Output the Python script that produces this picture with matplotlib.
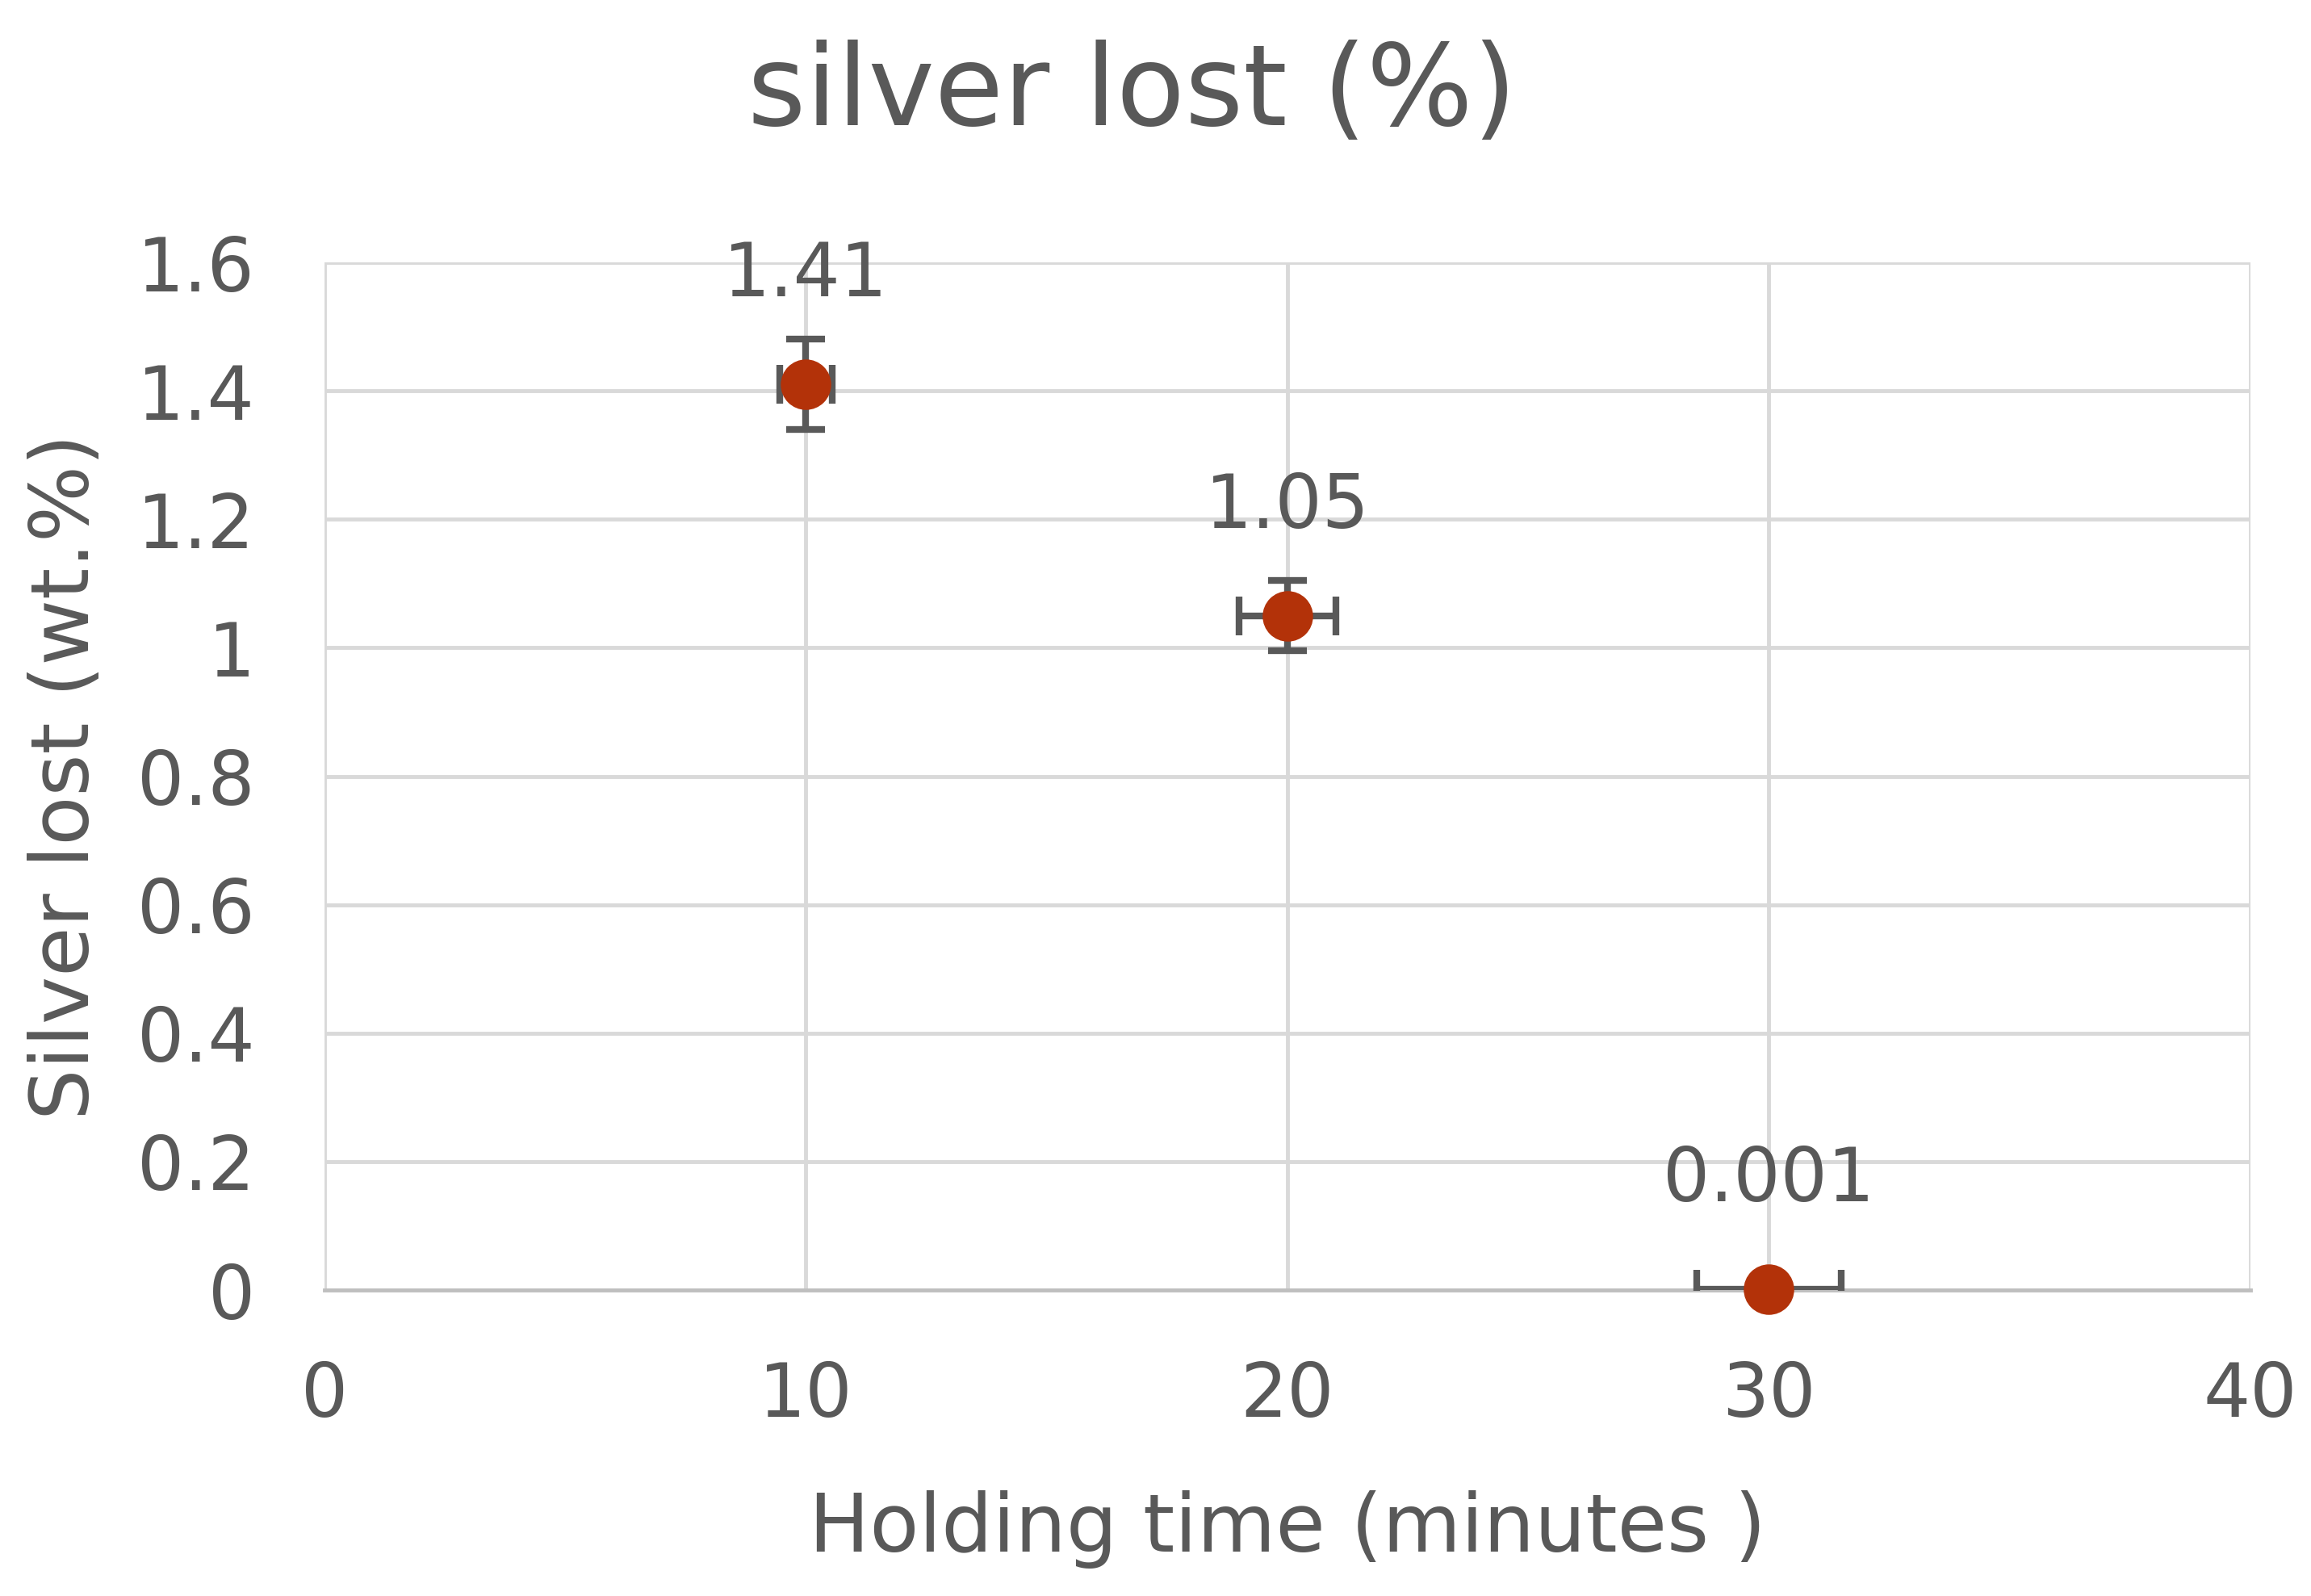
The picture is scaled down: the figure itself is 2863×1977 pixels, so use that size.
import matplotlib
matplotlib.use("Agg")
import matplotlib.pyplot as plt

# data
holding_time = [10, 20, 30]
silver_lost = [1.41, 1.05, 0.001]
time_err = [0.55, 1.0, 1.5]
lost_err = [0.07, 0.055, 0.0]
point_labels = ["1.41", "1.05", "0.001"]
x_ticks = [0, 10, 20, 30, 40]
y_ticks = [0, 0.2, 0.4, 0.6, 0.8, 1.0, 1.2, 1.4, 1.6]
y_tick_labels = ["0", "0.2", "0.4", "0.6", "0.8", "1", "1.2", "1.4", "1.6"]

TEXT = "#595959"
GRID = "#D9D9D9"
DOT = "#B33209"

plt.rcParams['font.family'] = ['DejaVu Sans']

fig = plt.figure(figsize=(28.63, 19.77), dpi=100)
ax = fig.add_axes([0.1404, 0.1917, 0.8334, 0.6439])

ax.errorbar(holding_time, silver_lost, xerr=time_err, yerr=lost_err,
            fmt='none', ecolor=TEXT, elinewidth=6, capsize=17, capthick=6,
            zorder=3)
ax.plot(holding_time, silver_lost, 'o', color=DOT, markersize=44,
        clip_on=False, zorder=4)

for x, y, lab in zip(holding_time, silver_lost, point_labels):
    ax.annotate(lab, (x, y), xytext=(0, 97), textcoords='offset points',
                ha='center', va='center', fontsize=66, color=TEXT, zorder=5)

ax.set_xlim(0, 40)
ax.set_ylim(0, 1.6)
ax.set_xticks(x_ticks)
ax.set_yticks(y_ticks)
ax.set_yticklabels(y_tick_labels)
ax.tick_params(axis='both', length=0, labelsize=66, labelcolor=TEXT)
ax.tick_params(axis='x', pad=62)
ax.tick_params(axis='y', pad=62)

ax.grid(True, color=GRID, linewidth=3.5)
ax.set_axisbelow(True)
for side in ['top', 'right', 'left']:
    ax.spines[side].set_visible(False)
ax.spines['bottom'].set_color("#BFBFBF")
ax.spines['bottom'].set_linewidth(3.5)

ax.set_xlabel("Holding time (minutes )", fontsize=72, color=TEXT, labelpad=52)
ax.set_ylabel("Silver lost (wt.%)", fontsize=72, color=TEXT, labelpad=28)

fig.suptitle("silver lost (%)", fontsize=100, color=TEXT, x=0.49, y=0.975)

fig.savefig("out.png", dpi=100, facecolor='white')
